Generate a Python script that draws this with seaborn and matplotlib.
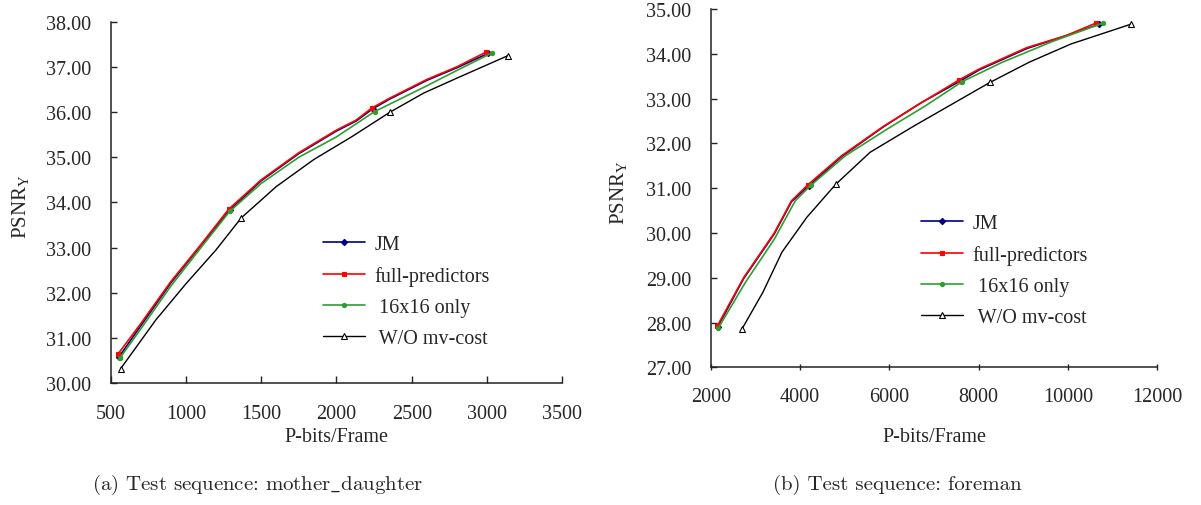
import matplotlib
matplotlib.use("Agg")
import matplotlib.pyplot as plt
from matplotlib.lines import Line2D
from matplotlib.ticker import FormatStrFormatter, MultipleLocator
import seaborn as sns

# ---- mother_daughter sequence: rate (P-bits/frame) vs PSNR_Y ----
md_jm_x = [555, 700, 900, 1100, 1290, 1500, 1750, 2000, 2130, 2240, 2350, 2600, 2800, 3009]
md_jm_y = [30.58, 31.27, 32.22, 33.05, 33.83, 34.48, 35.08, 35.58, 35.80, 36.07, 36.28, 36.70, 36.98, 37.30]
md_jm_pts = [0, 4, 9, 13]

md_full_x = [550, 700, 900, 1100, 1284, 1500, 1750, 2000, 2130, 2235, 2350, 2600, 2800, 2996]
md_full_y = [30.65, 31.32, 32.25, 33.07, 33.85, 34.50, 35.10, 35.60, 35.82, 36.09, 36.30, 36.72, 37.00, 37.33]
md_full_pts = [0, 4, 9, 13]

md_16_x = [560, 700, 900, 1100, 1290, 1500, 1750, 2000, 2253, 2400, 2600, 2800, 3034]
md_16_y = [30.55, 31.20, 32.15, 33.00, 33.80, 34.42, 35.00, 35.45, 36.01, 36.25, 36.58, 36.92, 37.31]
md_16_pts = [0, 4, 8, 12]

md_nomv_x = [566, 800, 1000, 1200, 1368, 1600, 1850, 2100, 2357, 2580, 2800, 3141]
md_nomv_y = [30.32, 31.40, 32.20, 32.95, 33.66, 34.35, 34.95, 35.45, 36.00, 36.42, 36.75, 37.25]
md_nomv_pts = [0, 4, 8, 11]

# ---- foreman sequence ----
fm_jm_x = [2155, 2737, 3424, 3810, 4196, 4925, 5868, 6700, 7600, 8012, 9084, 9942, 10705]
fm_jm_y = [27.90, 28.98, 29.98, 30.70, 31.05, 31.70, 32.37, 32.90, 33.40, 33.64, 34.12, 34.40, 34.66]
fm_jm_pts = [0, 4, 8, 12]

fm_full_x = [2146, 2737, 3424, 3810, 4170, 4925, 5868, 6640, 7566, 8012, 9084, 9942, 10636]
fm_full_y = [27.92, 29.00, 30.00, 30.72, 31.07, 31.72, 32.38, 32.86, 33.42, 33.66, 34.14, 34.40, 34.69]
fm_full_pts = [0, 4, 8, 12]

fm_16_x = [2172, 2780, 3424, 3895, 4238, 5010, 5953, 6811, 7635, 8527, 9641, 10790]
fm_16_y = [27.88, 28.90, 29.86, 30.72, 31.06, 31.72, 32.32, 32.84, 33.38, 33.81, 34.27, 34.69]
fm_16_pts = [0, 4, 8, 11]

fm_nomv_x = [2703, 3166, 3595, 4153, 4804, 5568, 6554, 7412, 8252, 9127, 10070, 11408]
fm_nomv_y = [27.86, 28.67, 29.57, 30.35, 31.09, 31.80, 32.39, 32.88, 33.36, 33.81, 34.22, 34.66]
fm_nomv_pts = [0, 4, 8, 11]

series_labels = ["JM", "full-predictors", " 16x16 only", " W/O mv-cost"]
captions = [r"(a) Test sequence: mother$\_$daughter",
            r"(b) Test sequence: foreman"]

sns.set_theme(style="white")
plt.rcParams["font.family"] = ["Liberation Serif", "DejaVu Serif"]
plt.rcParams["mathtext.fontset"] = "custom"
plt.rcParams["mathtext.rm"] = "Liberation Serif"
plt.rcParams["mathtext.it"] = "Liberation Serif:italic"

styles = [
    dict(color="#000080", marker="D", ms=3.2, mfc="#000080", mec="#000080", lw=1.2),
    dict(color="#ff0000", marker="s", ms=3.0, mfc="#ff0000", mec="#ff0000", lw=1.2),
    dict(color="#2f9e2f", marker="o", ms=3.0, mfc="#2f9e2f", mec="#2f9e2f", lw=1.2),
    dict(color="#000000", marker="^", ms=4.5, mfc="white", mec="#000000", lw=1.0),
]

FS = 14.5
W, H = 1201, 506
fig = plt.figure(figsize=(W / 100, H / 100), dpi=100)

panels = [
    dict(rect=[110.6 / W, 1 - 384.3 / H, (562.3 - 110.6) / W, (384.3 - 22.6) / H],
         xlim=(500, 3500), xstep=500, ylim=(30, 38),
         data=[(md_jm_x, md_jm_y, md_jm_pts), (md_full_x, md_full_y, md_full_pts),
               (md_16_x, md_16_y, md_16_pts), (md_nomv_x, md_nomv_y, md_nomv_pts)],
         xdir="in", xpad=15, xlab_y=-0.121, ylab_x=-0.177, leg=(0.4696, 0.411), cap_x=258),
    dict(rect=[710.7 / W, 1 - 368.3 / H, (1157.3 - 710.7) / W, (368.3 - 10) / H],
         xlim=(2000, 12000), xstep=2000, ylim=(27, 35),
         data=[(fm_jm_x, fm_jm_y, fm_jm_pts), (fm_full_x, fm_full_y, fm_full_pts),
               (fm_16_x, fm_16_y, fm_16_pts), (fm_nomv_x, fm_nomv_y, fm_nomv_pts)],
         xdir="inout", xpad=12, xlab_y=-0.167, ylab_x=-0.184, leg=(0.4709, 0.428), cap_x=897),
]

for p, cap in zip(panels, captions):
    ax = fig.add_axes(p["rect"])
    for (xs, ys, pts), st in zip(p["data"], styles):
        sns.lineplot(x=xs, y=ys, ax=ax, sort=False, estimator=None,
                     color=st["color"], linewidth=st["lw"], marker=st["marker"],
                     markersize=st["ms"], markerfacecolor=st["mfc"],
                     markeredgecolor=st["mec"], markeredgewidth=0.8,
                     markevery=pts, zorder=3)
    ax.set_xlim(*p["xlim"])
    ax.set_ylim(*p["ylim"])
    ax.xaxis.set_major_locator(MultipleLocator(p["xstep"]))
    ax.yaxis.set_major_locator(MultipleLocator(1))
    ax.yaxis.set_major_formatter(FormatStrFormatter("%.2f"))
    for side in ("top", "right"):
        ax.spines[side].set_visible(False)
    for side in ("left", "bottom"):
        ax.spines[side].set_color("#222222")
        ax.spines[side].set_linewidth(1.1)
    ax.tick_params(axis="x", direction=p["xdir"], length=5, width=1.0,
                   color="#222222", labelsize=FS, pad=p["xpad"], bottom=True)
    ax.tick_params(axis="y", direction="in", length=4, width=1.0,
                   color="#222222", labelsize=FS, pad=14, left=True)
    ax.set_xlabel("P-bits/Frame", fontsize=FS)
    ax.xaxis.set_label_coords(0.5, p["xlab_y"])
    ax.set_ylabel(r"PSNR$_\mathrm{Y}$", fontsize=15)
    ax.yaxis.set_label_coords(p["ylab_x"], 0.49)
    ax.grid(False)

    handles = [Line2D([0], [0], color=st["color"], lw=st["lw"], marker=st["marker"],
                      ms=st["ms"], mfc=st["mfc"], mec=st["mec"], mew=0.8)
               for st in styles]
    ax.legend(handles, series_labels, loc="upper left", bbox_to_anchor=p["leg"],
              frameon=False, fontsize=FS, handlelength=2.11, handletextpad=0.45,
              labelspacing=0.6, borderpad=0, borderaxespad=0, numpoints=1)

    fig.text(p["cap_x"] / W, 1 - 485 / H, cap, ha="center", va="center",
             fontsize=15, family=["cmr10"], math_fontfamily="cm")

fig.savefig("out.png", dpi=100)
